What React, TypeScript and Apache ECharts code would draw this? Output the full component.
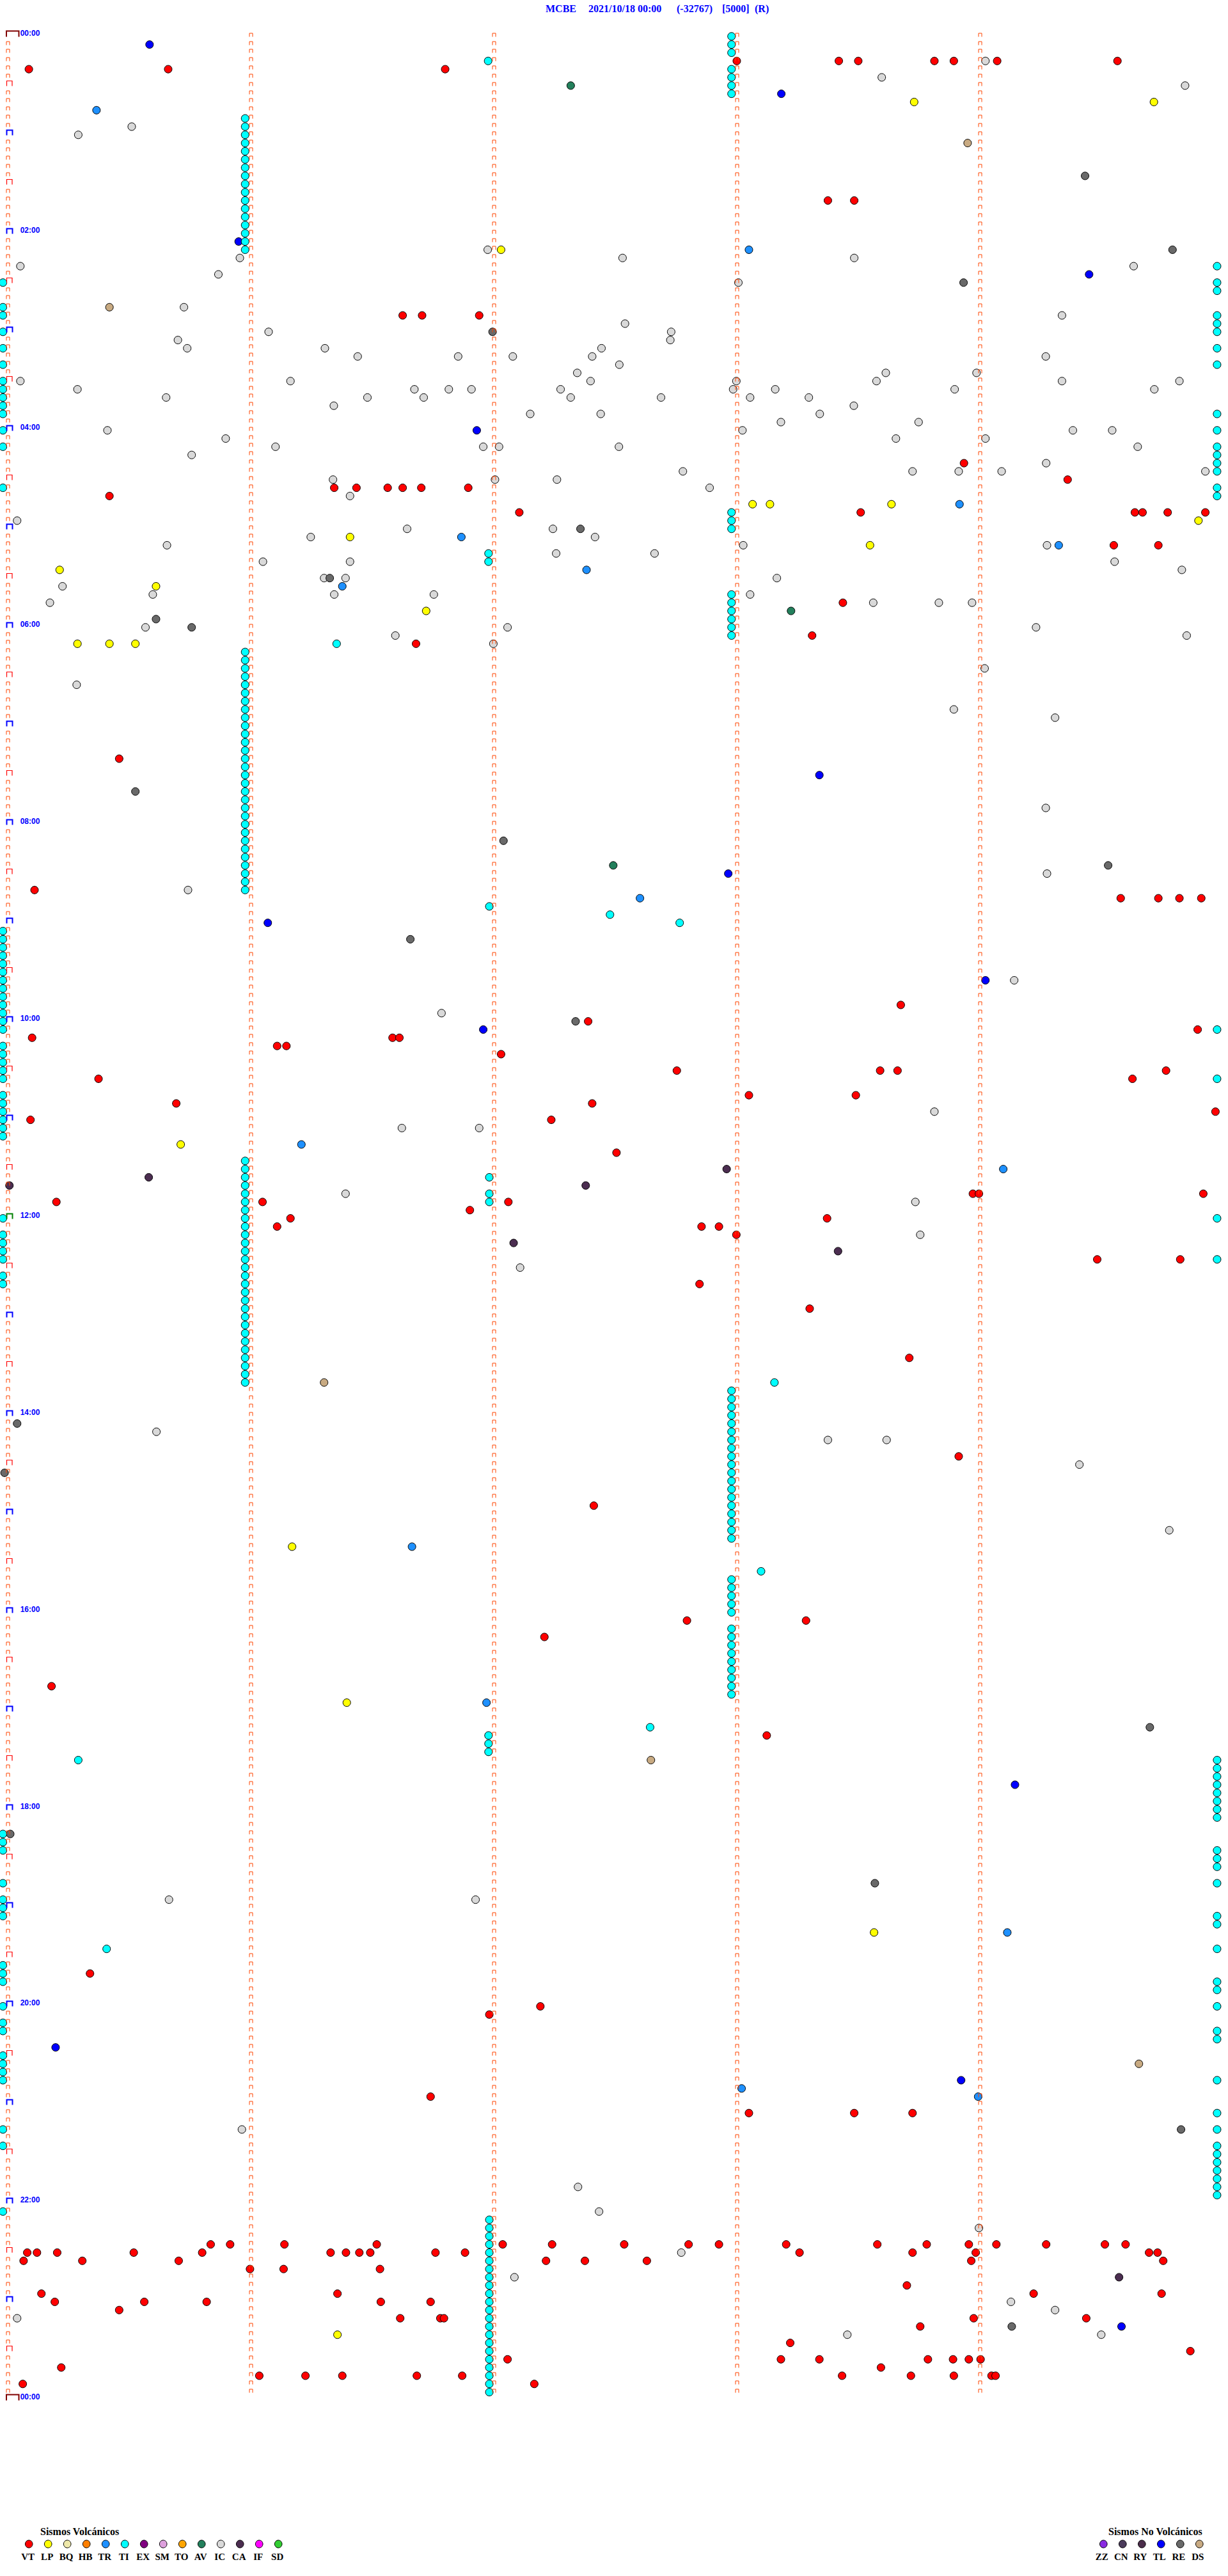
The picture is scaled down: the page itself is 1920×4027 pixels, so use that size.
import React, { useEffect, useRef } from "react";
import * as echarts from "echarts";

// ---------- texts ----------
const TITLE_PARTS = ["MCBE", "2021/10/18 00:00", "(-32767)", "[5000]", "(R)"];
const TITLE_X = [853, 920, 1058, 1129, 1180];
const HOUR_LABELS = ["00:00", "02:00", "04:00", "06:00", "08:00", "10:00", "12:00", "14:00", "16:00", "18:00", "20:00", "22:00", "00:00"];
const HOUR_LABEL_ROWS = [0, 24, 48, 72, 96, 120, 144, 168, 192, 216, 240, 264, 288];
const ROW_COUNT = 288; // 5-minute rows
const MINUTE_MARKS = [0, 60, 120, 180, 240]; // seconds inside a row

const VOLCANIC_TITLE = "Sismos Volcánicos";
const VOLCANIC_TYPES = ["VT", "LP", "BQ", "HB", "TR", "TI", "EX", "SM", "TO", "AV", "IC", "CA", "IF", "SD"];
const VOLCANIC_COLORS = ["#FF0000", "#FFFF00", "#EEE8AA", "#FF7F00", "#1E90FF", "#00FFFF", "#800080", "#DDA0DD", "#FFA500", "#23805C", "#D9D9D9", "#4B2D50", "#FF00FF", "#32CD32"];
const NON_VOLCANIC_TITLE = "Sismos No Volcánicos";
const NON_VOLCANIC_TYPES = ["ZZ", "CN", "RY", "TL", "RE", "DS"];
const NON_VOLCANIC_COLORS = ["#8A2BE2", "#4B3B5B", "#4B2D4B", "#0000FF", "#696969", "#C8AA82"];

// ---------- events: [row (5-min line), seconds inside the row] ----------
const VT: [number, number][] = [
  [3, 180], [3, 205.2], [3, 210], [3, 228.8], [3, 233.6], [3, 244.3], [3, 274],
  [4, 5.2], [4, 39.6], [4, 108],
  [20, 202.5], [20, 209],
  [34, 97.5], [34, 102.3], [34, 116.4],
  [52, 236.1], [54, 261.7],
  [55, 80.6], [55, 86.1], [55, 93.8], [55, 97.5], [55, 102.1], [55, 113.7],
  [56, 25.1],
  [58, 126.3], [58, 210.6], [58, 278.3], [58, 280.2], [58, 286.4], [58, 295.7],
  [62, 273.1], [62, 284.1],
  [69, 206.2], [73, 198.6], [74, 100.8], [88, 27.5], [104, 6.6],
  [105, 274.8], [105, 284.1], [105, 289.3], [105, 294.7],
  [118, 220.5], [120, 143.3], [121, 293.8],
  [122, 6], [122, 95], [122, 96.7],
  [123, 66.5], [123, 68.8], [124, 121.8],
  [126, 165.2], [126, 215.4], [126, 219.7], [126, 286],
  [127, 22.4], [127, 277.7],
  [129, 183], [129, 209.4],
  [130, 41.6], [130, 144.3],
  [131, 298.2],
  [132, 5.6], [132, 134.2],
  [136, 150.3],
  [141, 238.3], [141, 239.8], [141, 295.2],
  [142, 12], [142, 62.9], [142, 123.6],
  [143, 114.1],
  [144, 69.8], [144, 202.3],
  [145, 66.5], [145, 171.3], [145, 175.6],
  [146, 179.9],
  [149, 269], [149, 289.5],
  [152, 170.8], [155, 198], [161, 222.6], [173, 234.8], [179, 144.7],
  [193, 167.7], [193, 197.1], [195, 132.5], [201, 10.8], [207, 187.4], [236, 20.3], [240, 131.5], [241, 118.9],
  [251, 104.4],
  [253, 183], [253, 209], [253, 223.4],
  [269, 50.1], [269, 54.9], [269, 68.3], [269, 91.1], [269, 122.2], [269, 134.4], [269, 152.2], [269, 168.1], [269, 175.6],
  [269, 192.2], [269, 214.7], [269, 226.9], [269, 237.3], [269, 244.1], [269, 256.4], [269, 270.9], [269, 276],
  [270, 4.8], [270, 7.2], [270, 12.2], [270, 31.1], [270, 48], [270, 79.7], [270, 83.5], [270, 86.8], [270, 89.5],
  [270, 105.6], [270, 112.9], [270, 195.5], [270, 223.4], [270, 239], [270, 281.8], [270, 283.9],
  [271, 3.9], [271, 18.4], [271, 42.2], [271, 132.9], [271, 142.5], [271, 157.8], [271, 237.9], [271, 285.3],
  [272, 59.8], [272, 68.1], [272, 91.9],
  [274, 222],
  [275, 8.3], [275, 81.4], [275, 253.3], [275, 284.9],
  [276, 11.6], [276, 33.7], [276, 49.1], [276, 92.1], [276, 104.4],
  [277, 27.5],
  [278, 96.9], [278, 106.8], [278, 107.7], [278, 238.5], [278, 266.3],
  [279, 225.3],
  [281, 193.2],
  [282, 292],
  [283, 123.4], [283, 190.9], [283, 200.4], [283, 227.2], [283, 233.4], [283, 237.3], [283, 240.2],
  [284, 13.2], [284, 215.6],
  [285, 62.1], [285, 73.5], [285, 82.6], [285, 101], [285, 112.2], [285, 206], [285, 223], [285, 233.6], [285, 242.9], [285, 243.9],
  [286, 3.7], [286, 130],
];

const LP: [number, number][] = [
  [8, 223.8], [8, 283], [26, 121.8], [57, 183.9], [57, 188.2], [57, 218.2], [59, 294], [61, 84.5], [62, 212.9],
  [65, 12.8], [67, 36.6], [70, 103.3], [74, 17.2], [74, 25.1], [74, 31.5], [135, 42.7], [184, 70.2], [203, 83.7],
  [231, 213.9], [280, 81.4],
];

const TR: [number, number][] = [
  [9, 21.9], [26, 183], [57, 235], [61, 112], [62, 259.5], [65, 142.9], [67, 82.6], [105, 156.1], [135, 72.5],
  [138, 245.8], [184, 99.8], [203, 118.2], [231, 246.8], [250, 181.2], [251, 239.6],
];

const TI: [number, number][] = [
  [0, 178.7], [1, 178.7], [2, 178.7], [3, 118.6], [4, 178.7], [5, 178.7], [6, 178.7], [7, 178.7],
  [10, 58.6], [11, 58.6], [12, 58.6], [13, 58.6], [14, 58.6], [15, 58.6], [16, 58.6], [17, 58.6], [18, 58.6],
  [19, 58.6], [20, 58.6], [21, 58.6], [22, 58.6], [23, 58.6], [24, 58.6], [25, 58.6], [26, 58.6],
  [28, 298.6], [30, 298.6], [31, 298.6], [34, 298.6], [35, 298.6], [36, 298.6], [38, 298.6], [40, 298.6], [46, 298.6],
  [30, -1.2], [33, -1.2], [34, -1.2], [36, -1.2], [38, -1.2], [40, -1.2], [42, -1.2], [43, -1.2], [44, -1.2], [45, -1.2], [46, -1.2],
  [48, -1.2], [50, -1.2], [55, -1.2],
  [48, 298.6], [50, 298.6], [51, 298.6], [52, 298.6], [53, 298.6], [55, 298.6], [56, 298.6],
  [58, 178.7], [59, 178.7], [60, 178.7],
  [68, 178.7], [69, 178.7], [70, 178.7], [71, 178.7], [72, 178.7], [73, 178.7],
  [63, 118.7], [64, 118.7], [74, 81.2],
  [75, 58.6], [76, 58.6], [77, 58.6], [78, 58.6], [79, 58.6], [80, 58.6], [81, 58.6], [82, 58.6], [83, 58.6], [84, 58.6],
  [85, 58.6], [86, 58.6], [87, 58.6], [88, 58.6], [89, 58.6], [90, 58.6], [91, 58.6], [92, 58.6], [93, 58.6], [94, 58.6],
  [95, 58.6], [96, 58.6], [97, 58.6], [98, 58.6], [99, 58.6], [100, 58.6], [101, 58.6], [102, 58.6], [103, 58.6], [104, 58.6],
  [106, 118.9], [107, 148.7], [108, 165.9],
  [109, -1.2], [110, -1.2], [111, -1.2], [112, -1.2], [113, -1.2], [114, -1.2], [115, -1.2], [116, -1.2], [117, -1.2],
  [118, -1.2], [119, -1.2], [120, -1.2], [121, -1.2],
  [123, -1.2], [124, -1.2], [125, -1.2], [126, -1.2], [127, -1.2],
  [129, -1.2], [130, -1.2], [131, -1.2], [132, -1.2], [133, -1.2], [134, -1.2],
  [121, 298.6], [127, 298.6],
  [137, 58.6], [138, 58.6], [139, 58.6], [140, 58.6], [141, 58.6], [142, 58.6], [143, 58.6], [144, 58.6], [145, 58.6],
  [146, 58.6], [147, 58.6], [148, 58.6], [149, 58.6], [150, 58.6], [151, 58.6], [152, 58.6], [153, 58.6], [154, 58.6],
  [155, 58.6], [156, 58.6], [157, 58.6], [158, 58.6], [159, 58.6], [160, 58.6], [161, 58.6], [162, 58.6], [163, 58.6], [164, 58.6],
  [139, 118.9], [141, 118.9], [142, 118.9],
  [144, -1.2], [146, -1.2], [147, -1.2], [148, -1.2], [149, -1.2], [151, -1.2], [152, -1.2],
  [144, 298.6], [149, 298.6],
  [164, 189.3],
  [165, 178.7], [166, 178.7], [167, 178.7], [168, 178.7], [169, 178.7], [170, 178.7], [171, 178.7], [172, 178.7], [173, 178.7],
  [174, 178.7], [175, 178.7], [176, 178.7], [177, 178.7], [178, 178.7], [179, 178.7], [180, 178.7], [181, 178.7], [182, 178.7], [183, 178.7],
  [187, 186],
  [188, 178.7], [189, 178.7], [190, 178.7], [191, 178.7], [192, 178.7],
  [194, 178.7], [195, 178.7], [196, 178.7], [197, 178.7], [198, 178.7], [199, 178.7], [200, 178.7], [201, 178.7], [202, 178.7],
  [206, 158.6], [207, 118.7], [208, 118.7], [209, 118.7], [210, 17.4],
  [210, 298.6], [211, 298.6], [212, 298.6], [213, 298.6], [214, 298.6], [215, 298.6], [216, 298.6], [217, 298.6],
  [221, 298.6], [222, 298.6], [223, 298.6], [225, 298.6], [229, 298.6], [230, 298.6], [233, 298.6], [237, 298.6], [238, 298.6], [240, 298.6],
  [219, -1.2], [220, -1.2], [221, -1.2], [225, -1.2], [227, -1.2], [228, -1.2], [229, -1.2], [235, -1.2], [236, -1.2], [237, -1.2], [240, -1.2],
  [233, 24.4],
  [242, -1.2], [243, -1.2], [246, -1.2], [247, -1.2], [248, -1.2], [249, -1.2], [255, -1.2], [257, -1.2], [265, -1.2],
  [243, 298.6], [244, 298.6], [249, 298.6], [253, 298.6], [255, 298.6],
  [257, 298.6], [258, 298.6], [259, 298.6], [260, 298.6], [261, 298.6], [262, 298.6], [263, 298.6],
  [266, 118.9], [267, 118.9], [268, 118.9], [269, 118.9], [270, 118.9], [271, 118.9], [272, 118.9], [273, 118.9],
  [274, 118.9], [275, 118.9], [276, 118.9], [277, 118.9], [278, 118.9], [279, 118.9], [280, 118.9], [281, 118.9],
  [282, 118.9], [283, 118.9], [284, 118.9], [285, 118.9], [286, 118.9], [287, 118.9],
];

const AV: [number, number][] = [[6, 139], [70, 193.4], [101, 149.5]];

const IC: [number, number][] = [
  [3, 241.4], [5, 215.8], [6, 290.7], [11, 30.6], [12, 17.4], [26, 118.5],
  [27, 57.3], [27, 151.8], [27, 209], [28, 3.1], [28, 278], [29, 52], [30, 180.4], [33, 43.5], [34, 260.3], [35, 152.4],
  [36, 64.4], [36, 163.8], [37, 42], [37, 163.6], [38, 44.3], [38, 78.3], [38, 146.6],
  [39, 86.4], [39, 111.2], [39, 124.7], [39, 144.3], [39, 256.3], [40, 151],
  [41, 140.6], [41, 216.8], [41, 239.2],
  [42, 3.1], [42, 69.8], [42, 143.9], [42, 179.9], [42, 214.5], [42, 260.3], [42, 289.3],
  [43, 17.2], [43, 100.4], [43, 108.9], [43, 114.5], [43, 136.5], [43, 179.1], [43, 189.5], [43, 233.8], [43, 283.1],
  [44, 39.1], [44, 88.8], [44, 102.7], [44, 139], [44, 161.3], [44, 183.3], [44, 197.8],
  [45, 80.5], [45, 208.9], [46, 129], [46, 146.4], [46, 200.5], [47, 190.9], [47, 224.9],
  [48, 24.6], [48, 181.4], [48, 263], [48, 272.7], [49, 53.8], [49, 219.3], [49, 241.4],
  [50, 66.1], [50, 117.4], [50, 121.3], [50, 150.9], [50, 279], [51, 45.4], [52, 256.4],
  [53, 166.7], [53, 223.4], [53, 234.8], [53, 245.4], [53, 295.7],
  [54, 80.3], [54, 120.3], [54, 135.6], [55, 173.3], [56, 84.5], [59, 2.3], [60, 98.6], [60, 134.6],
  [61, 74.8], [61, 145], [62, 39.3], [62, 181.6], [62, 256.6], [63, 135.4], [63, 159.7],
  [64, 63], [64, 84.5], [64, 273.3], [65, 289.9], [66, 78.1], [66, 83.4], [66, 189.9], [67, 13.5],
  [68, 35.8], [68, 80.6], [68, 105.2], [68, 183.3], [69, 10.4], [69, 213.7], [69, 229.9], [69, 238.1],
  [72, 34], [72, 123.4], [72, 253.9], [73, 95.7], [73, 291.1], [74, 119.9], [77, 241.2], [79, 17], [82, 233.6],
  [83, 258.6], [94, 256.3], [102, 256.6], [104, 44.5], [115, 248.5], [119, 107.1], [131, 228.8], [133, 97.3], [133, 116.4],
  [141, 83.4], [142, 224.1], [146, 225.3], [150, 126.5], [170, 36.7], [171, 202.5], [171, 217], [174, 264.6], [182, 286.8],
  [227, 39.8], [227, 115.5], [255, 57.8], [262, 140.8], [265, 146], [267, 239.8], [270, 166.3], [273, 125.1],
  [276, 247.7], [277, 258.6], [278, 2.3], [280, 207.3], [280, 270],
];

const CA: [number, number][] = [[138, 177.5], [139, 34.8], [140, 0.4], [140, 142.7], [147, 124.9], [148, 205], [273, 274.4]];

const TL: [number, number][] = [
  [1, 35], [7, 191], [25, 57], [29, 267], [48, 115.8], [90, 200.4], [102, 177.9], [108, 64.2], [115, 241.4],
  [121, 117.4], [213, 248.7], [245, 11.8], [249, 235.4], [279, 275],
];

const RE: [number, number][] = [
  [17, 266], [26, 287.6], [30, 236], [36, 119.7], [60, 141.4], [66, 79.5], [71, 36.6], [72, 45.4], [92, 31.5],
  [98, 122.4], [101, 271.7], [110, 99.4], [120, 140.2], [169, 2.3], [175, -0.8], [206, 282], [219, 0.6],
  [225, 214.1], [255, 289.7], [279, 247.9],
];

const DS: [number, number][] = [[13, 237], [33, 25.1], [164, 78.1], [210, 158.8], [247, 279.3]];

const EVENT_SERIES: { name: string; color: string; data: [number, number][] }[] = [
  { name: "IC", color: "#D9D9D9", data: IC },
  { name: "RE", color: "#696969", data: RE },
  { name: "DS", color: "#C8AA82", data: DS },
  { name: "CA", color: "#4B2D50", data: CA },
  { name: "AV", color: "#23805C", data: AV },
  { name: "TR", color: "#1E90FF", data: TR },
  { name: "TL", color: "#0000FF", data: TL },
  { name: "LP", color: "#FFFF00", data: LP },
  { name: "VT", color: "#FF0000", data: VT },
  { name: "TI", color: "#00FFFF", data: TI },
];

// ---------- pixel frame of the drum (page coordinates) ----------
const PX_X0 = 12.2; // x of second 0
const PX_PER_SEC = 6.332;
const PX_Y0 = 56.8; // y of row 0
const PX_PER_ROW = 12.832;
const W = 1920;
const H = 4027;

export default function App() {
  const ref = useRef<HTMLDivElement>(null);

  useEffect(() => {
    document.body.style.margin = "0";
    const chart = echarts.init(ref.current!, null, { renderer: "svg" });

    const markerData: number[][] = [];
    MINUTE_MARKS.forEach((sec, m) => {
      for (let r = 0; r <= ROW_COUNT; r++) {
        let kind = 0;
        if (m === 0) {
          if (r === 0 || r === ROW_COUNT) kind = 3;
          else if (r === 144) kind = 4;
          else if (r % 12 === 0) kind = 2;
          else if (r % 6 === 0) kind = 1;
        } else if (r === ROW_COUNT) continue;
        markerData.push([sec, r, kind]);
      }
    });

    const els: any[] = [];
    els.push({
      type: "text", x: 63, y: 3957,
      style: { text: VOLCANIC_TITLE, font: 'bold 16px "Liberation Serif"', fill: "#000", verticalAlign: "middle", align: "left" },
    });
    VOLCANIC_TYPES.forEach((t, i) => {
      const cx = 45.2 + 30 * i;
      els.push({ type: "ellipse", shape: { cx, cy: 3977, rx: 5.8, ry: 6 }, style: { fill: VOLCANIC_COLORS[i], stroke: "#000", lineWidth: 1 } });
      els.push({ type: "text", x: cx - 1.5, y: 3997, style: { text: t, font: 'bold 15px "Liberation Serif"', fill: "#000", align: "center", verticalAlign: "middle" } });
    });
    els.push({
      type: "text", x: 1733, y: 3957,
      style: { text: NON_VOLCANIC_TITLE, font: 'bold 16px "Liberation Serif"', fill: "#000", verticalAlign: "middle", align: "left" },
    });
    NON_VOLCANIC_TYPES.forEach((t, i) => {
      const cx = 1725.3 + 30 * i;
      els.push({ type: "ellipse", shape: { cx, cy: 3977, rx: 5.8, ry: 6 }, style: { fill: NON_VOLCANIC_COLORS[i], stroke: "#000", lineWidth: 1 } });
      els.push({ type: "text", x: cx - 2.5, y: 3997, style: { text: t, font: 'bold 15px "Liberation Serif"', fill: "#000", align: "center", verticalAlign: "middle" } });
    });
    TITLE_PARTS.forEach((t, i) => {
      els.push({ type: "text", x: TITLE_X[i], y: 13, style: { text: t, font: 'bold 16px "Liberation Serif"', fill: "#0000FF", align: "left", verticalAlign: "middle" } });
    });

    const option: any = {
      animation: false,
      backgroundColor: "#FFFFFF",
      grid: { left: 0, top: 0, width: W, height: H, containLabel: false, show: false },
      xAxis: {
        type: "value", min: -PX_X0 / PX_PER_SEC, max: (W - PX_X0) / PX_PER_SEC,
        show: false, splitLine: { show: false },
      },
      yAxis: {
        type: "value", inverse: true, min: -PX_Y0 / PX_PER_ROW, max: (H - PX_Y0) / PX_PER_ROW,
        show: false, splitLine: { show: false },
      },
      graphic: { elements: els },
      series: [
        ...EVENT_SERIES.map((s, i) => ({
          type: "scatter",
          name: s.name,
          data: s.data.map(([r, sec]) => [sec, r]),
          symbol: "circle",
          symbolSize: 12,
          itemStyle: { color: s.color, borderColor: "#000", borderWidth: 1, opacity: 1 },
          emphasis: { disabled: true },
          silent: true,
          z: 2 + i * 0.01,
          clip: false,
        })),
        {
          type: "custom",
          name: "marks",
          data: markerData,
          silent: true,
          clip: false,
          z: 5,
          renderItem: (params: any, api: any) => {
            const p = api.coord([api.value(0), api.value(1)]);
            const kind = api.value(2);
            const x = Math.round(p[0]) + 0.5;
            const y = Math.round(p[1]) + 0.5;
            if (kind === 0) {
              return { type: "polyline", shape: { points: [[x - 2.5, y], [x - 2.5, y - 5.5], [x + 2.5, y - 5.5], [x + 2.5, y]] }, style: { stroke: "#FF4500", fill: "none", lineWidth: 1 } };
            }
            if (kind === 1) {
              return { type: "polyline", shape: { points: [[x - 2, y], [x - 2, y - 8], [x + 6.5, y - 8], [x + 6.5, y]] }, style: { stroke: "#FF0000", fill: "none", lineWidth: 1.2 } };
            }
            if (kind === 2 || kind === 4) {
              return { type: "polyline", shape: { points: [[x - 2, y], [x - 2, y - 8], [x + 7, y - 8], [x + 7, y]] }, style: { stroke: kind === 4 ? "#008000" : "#0000FF", fill: "none", lineWidth: 2 } };
            }
            return { type: "polyline", shape: { points: [[x - 2.5, y], [x - 2.5, y - 9], [x + 17, y - 9], [x + 17, y]] }, style: { stroke: "#800000", fill: "none", lineWidth: 2 } };
          },
        },
        {
          type: "custom",
          name: "hours",
          data: HOUR_LABEL_ROWS.map((r, i) => [0, r, i]),
          silent: true,
          clip: false,
          z: 6,
          renderItem: (params: any, api: any) => {
            const p = api.coord([api.value(0), api.value(1)]);
            return {
              type: "text",
              x: p[0] + 19.5,
              y: p[1] - 5,
              style: { text: HOUR_LABELS[api.value(2)], font: 'bold 12px "Liberation Sans"', fill: "#0000FF", align: "left", verticalAlign: "middle" },
            };
          },
        },
      ],
    };
    chart.setOption(option);
    return () => chart.dispose();
  }, []);

  return <div ref={ref} style={{ position: "absolute", left: 0, top: 0, width: W, height: H, background: "#fff" }} />;
}
